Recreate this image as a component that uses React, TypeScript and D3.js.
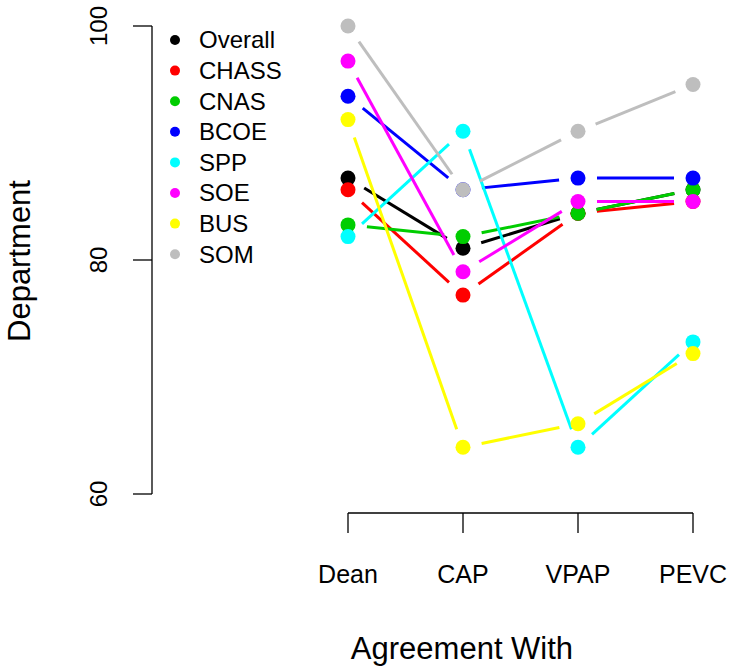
import * as d3 from 'd3'

const categories = ['Dean', 'CAP', 'VPAP', 'PEVC']
const seriesNames = ['Overall', 'CHASS', 'CNAS', 'BCOE', 'SPP', 'SOE', 'BUS', 'SOM']
const seriesColors = ['#000000', '#ff0000', '#00cd00', '#0000ff', '#00ffff', '#ff00ff', '#ffff00', '#bebebe']

const overall = [87, 81, 84, 86]
const chass = [86, 77, 84, 85]
const cnas = [83, 82, 84, 86]
const bcoe = [94, 86, 87, 87]
const spp = [82, 91, 64, 73]
const soe = [97, 79, 85, 85]
const bus = [92, 64, 66, 72]
const som = [100, 86, 91, 95]

const seriesValues = [overall, chass, cnas, bcoe, spp, soe, bus, som]
const yTicks = [60, 80, 100]

const W = 731
const H = 668
const FONT = '"Liberation Sans", Arial, sans-serif'

export default function App() {
  const x = d3.scalePoint<string>().domain(categories).range([348, 693])
  const y = d3.scaleLinear().domain([60, 100]).range([494, 26])
  const gap = 19

  // R type="b": segments stop short of each point
  const segments: { x1: number; y1: number; x2: number; y2: number; color: string; key: string }[] = []
  seriesValues.forEach((vals, si) => {
    for (let i = 0; i < vals.length - 1; i++) {
      const ax = x(categories[i]) ?? 0
      const ay = y(vals[i])
      const bx = x(categories[i + 1]) ?? 0
      const by = y(vals[i + 1])
      const len = Math.hypot(bx - ax, by - ay)
      if (len <= 2 * gap) continue
      const ux = (bx - ax) / len
      const uy = (by - ay) / len
      segments.push({
        x1: ax + ux * gap, y1: ay + uy * gap,
        x2: bx - ux * gap, y2: by - uy * gap,
        color: seriesColors[si], key: `${si}-${i}`,
      })
    }
  })

  const xs = categories.map(c => x(c) ?? 0)

  return (
    <svg width={W} height={H} style={{ position: 'absolute', left: 0, top: 0, background: '#fff' }}
      fontFamily={FONT}>
      {/* y axis */}
      <line x1={152} x2={152} y1={y(60)} y2={y(100)} stroke="#000" strokeWidth={1.3} />
      {yTicks.map(t => (
        <g key={t}>
          <line x1={133} x2={152} y1={y(t)} y2={y(t)} stroke="#000" strokeWidth={1.3} />
          <text transform={`translate(107,${y(t)}) rotate(-90)`} textAnchor="middle"
            fontSize={24} fill="#000">{t}</text>
        </g>
      ))}
      <text transform={`translate(30,261) rotate(-90)`} textAnchor="middle" fontSize={31} fill="#000">
        Department
      </text>

      {/* x axis */}
      <line x1={xs[0]} x2={xs[xs.length - 1]} y1={513} y2={513} stroke="#000" strokeWidth={1.3} />
      {categories.map(c => (
        <g key={c}>
          <line x1={x(c)} x2={x(c)} y1={513} y2={533} stroke="#000" strokeWidth={1.3} />
          <text x={x(c)} y={583} textAnchor="middle" fontSize={25} fill="#000">{c}</text>
        </g>
      ))}
      <text x={462} y={659} textAnchor="middle" fontSize={31} fill="#000">Agreement With</text>

      {/* lines and points, in legend order */}
      {seriesValues.map((vals, si) => (
        <g key={seriesNames[si]}>
          {segments.filter(s => s.key.startsWith(`${si}-`)).map(s => (
            <line key={s.key} x1={s.x1} y1={s.y1} x2={s.x2} y2={s.y2}
              stroke={s.color} strokeWidth={3} />
          ))}
          {vals.map((v, i) => (
            <circle key={i} cx={x(categories[i])} cy={y(v)} r={7.5} fill={seriesColors[si]} />
          ))}
        </g>
      ))}

      {/* legend */}
      {seriesNames.map((n, i) => (
        <g key={n} transform={`translate(175,${40 + i * 30.6})`}>
          <circle cx={0} cy={0} r={5} fill={seriesColors[i]} />
          <text x={24} y={0} dy="0.35em" fontSize={24} fill="#000">{n}</text>
        </g>
      ))}
    </svg>
  )
}
